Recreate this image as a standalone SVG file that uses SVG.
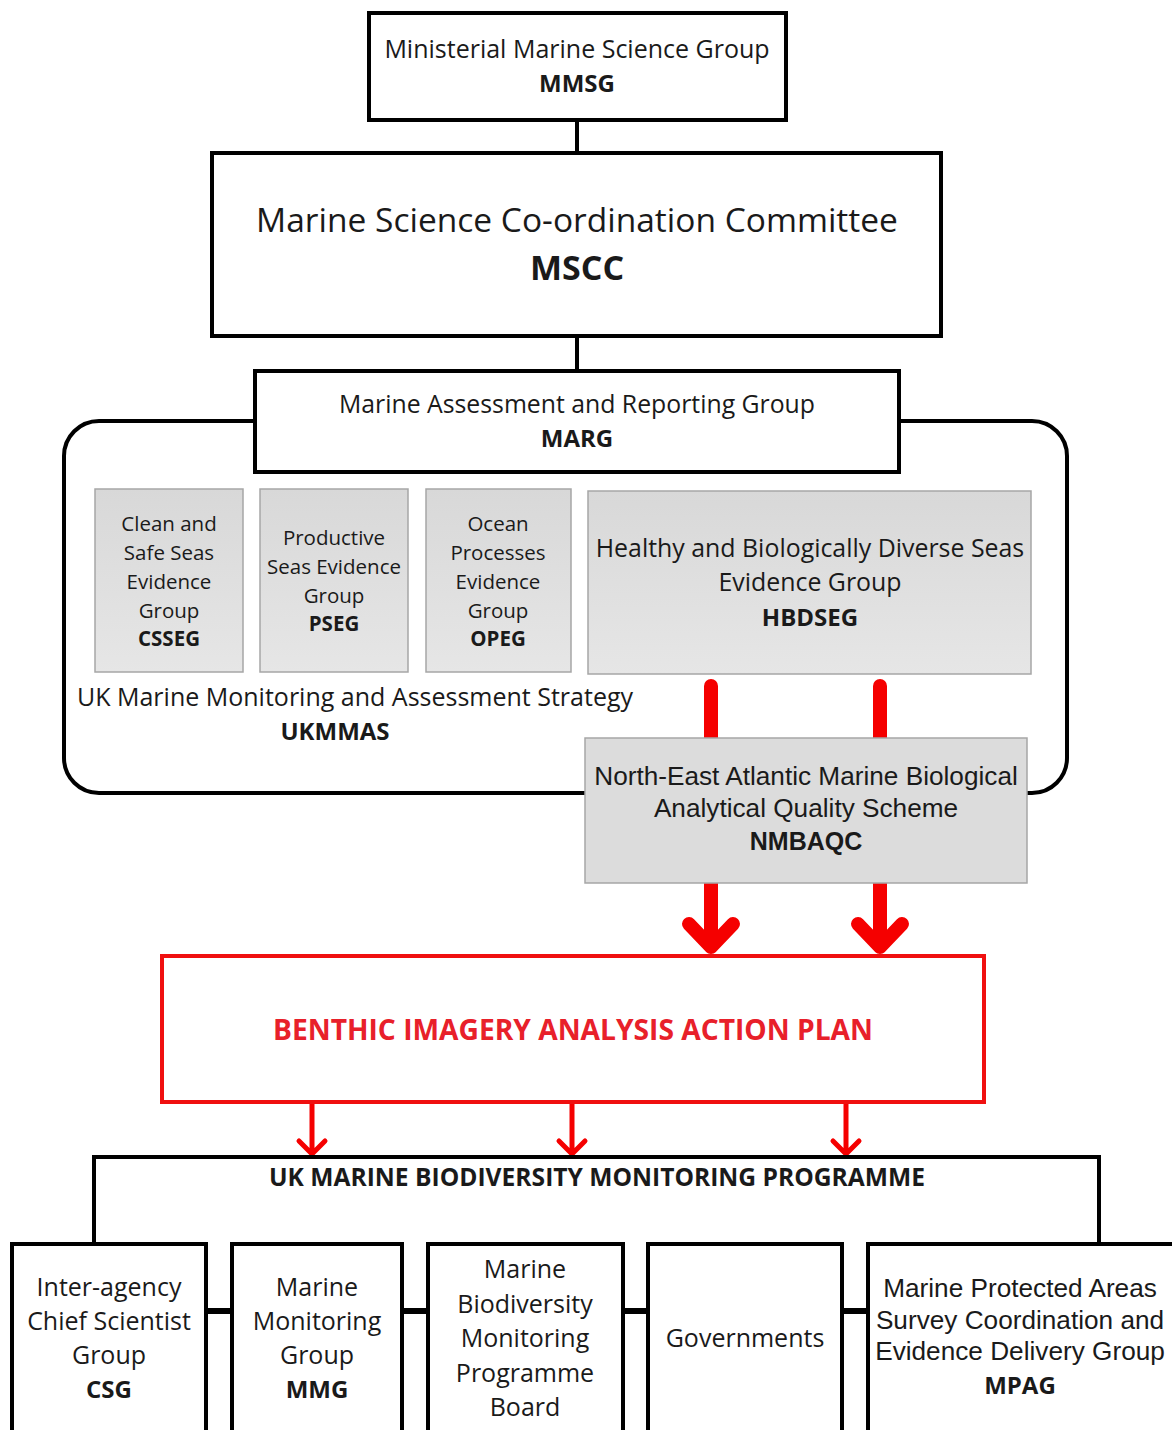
<svg xmlns="http://www.w3.org/2000/svg" width="1172" height="1430" viewBox="0 0 1172 1430">
<defs>
<linearGradient id="gg" x1="0" y1="0" x2="0" y2="1">
<stop offset="0" stop-color="#d8d8d8"/>
<stop offset="1" stop-color="#e6e6e6"/>
</linearGradient>
<style>
.bx{fill:#fff;stroke:#000;stroke-width:4}
.gb{fill:url(#gg);stroke:#a6a6a6;stroke-width:1.5}
.t{font-family:"Open Sans","Liberation Sans",sans-serif;fill:#1a1a1a;text-anchor:middle}
.a{font-family:"Liberation Sans",Arial,sans-serif;fill:#1a1a1a;text-anchor:middle}
.b{font-weight:bold}
.ln{stroke:#000;stroke-width:4;fill:none}
.rt{stroke:#f50000;stroke-width:14;fill:none;stroke-linecap:round;stroke-linejoin:round}
.rs{stroke:#f50000;stroke-width:5;fill:none;stroke-linecap:round;stroke-linejoin:round}
</style>
</defs>
<rect width="1172" height="1430" fill="#fff"/>

<g id="connectors">
<line class="ln" x1="577" y1="120" x2="577" y2="152"/>
<line class="ln" x1="577" y1="336" x2="577" y2="370"/>
<path class="ln" d="M255,421 H99 A35,35 0 0 0 64,456 V758 A35,35 0 0 0 99,793 H1032 A35,35 0 0 0 1067,758 V456 A35,35 0 0 0 1032,421 H899"/>
<line class="rt" x1="711" y1="686" x2="711" y2="740"/>
<line class="rt" x1="880" y1="686" x2="880" y2="740"/>
<path class="rt" d="M711,883 V947 M689,924 L711,947 L733,924"/>
<path class="rt" d="M880,883 V947 M858,924 L880,947 L902,924"/>
<path class="rs" d="M312,1102 V1154 M299,1141 L312,1154 L325,1141"/>
<path class="rs" d="M572,1102 V1154 M559,1141 L572,1154 L585,1141"/>
<path class="rs" d="M846,1102 V1154 M833,1141 L846,1154 L859,1141"/>
<path class="ln" d="M94,1243 V1157 H1099 V1243"/>
<g stroke="#000" stroke-width="6">
<line x1="206" y1="1311" x2="232" y2="1311"/>
<line x1="402" y1="1311" x2="428" y2="1311"/>
<line x1="623" y1="1311" x2="648" y2="1311"/>
<line x1="842" y1="1311" x2="868" y2="1311"/>
</g>
</g>

<g id="mmsg">
<rect class="bx" x="369" y="13" width="417" height="107"/>
<text class="t" x="577" y="58" font-size="25">Ministerial Marine Science Group</text>
<text class="t b" x="577" y="92" font-size="24">MMSG</text>
</g>

<g id="mscc">
<rect class="bx" x="212" y="153" width="729" height="183"/>
<text class="t" x="577" y="232" font-size="33.5">Marine Science Co-ordination Committee</text>
<text class="t b" x="577" y="280" font-size="34">MSCC</text>
</g>

<g id="marg">
<rect class="bx" x="255" y="371" width="644" height="101"/>
<text class="t" x="577" y="413" font-size="24.8">Marine Assessment and Reporting Group</text>
<text class="t b" x="577" y="447" font-size="24">MARG</text>
</g>

<g id="ukmmas">
<text class="t" x="355" y="706" font-size="25">UK Marine Monitoring and Assessment Strategy</text>
<text class="t b" x="335" y="740" font-size="24">UKMMAS</text>
</g>

<g id="csseg">
<rect class="gb" x="95" y="489" width="148" height="183"/>
<g class="t" font-size="20.5">
<text x="169" y="531">Clean and</text>
<text x="169" y="560">Safe Seas</text>
<text x="169" y="589">Evidence</text>
<text x="169" y="618">Group</text>
<text class="b" x="169" y="646">CSSEG</text>
</g>
</g>

<g id="pseg">
<rect class="gb" x="260" y="489" width="148" height="183"/>
<g class="t" font-size="20.5">
<text x="334" y="545">Productive</text>
<text x="334" y="574">Seas Evidence</text>
<text x="334" y="603">Group</text>
<text class="b" x="334" y="631">PSEG</text>
</g>
</g>

<g id="opeg">
<rect class="gb" x="426" y="489" width="145" height="183"/>
<g class="t" font-size="20.5">
<text x="498" y="531">Ocean</text>
<text x="498" y="560">Processes</text>
<text x="498" y="589">Evidence</text>
<text x="498" y="618">Group</text>
<text class="b" x="498" y="646">OPEG</text>
</g>
</g>

<g id="hbdseg">
<rect class="gb" x="588" y="491" width="443" height="183"/>
<g class="t" font-size="24.9">
<text x="810" y="557">Healthy and Biologically Diverse Seas</text>
<text x="810" y="591">Evidence Group</text>
<text class="b" x="810" y="626" font-size="24">HBDSEG</text>
</g>
</g>

<g id="nmbaqc">
<rect x="585" y="738" width="442" height="145" fill="#dcdcdc" stroke="#a6a6a6" stroke-width="1.5"/>
<g class="a" font-size="26.2">
<text x="806" y="785">North-East Atlantic Marine Biological</text>
<text x="806" y="817">Analytical Quality Scheme</text>
<text class="b" x="806" y="850" font-size="25">NMBAQC</text>
</g>
</g>

<g id="biaap">
<rect x="162" y="956" width="822" height="146" fill="#fff" stroke="#f01010" stroke-width="4"/>
<text class="t b" x="573" y="1040" font-size="28.2" style="fill:#e8202a">BENTHIC IMAGERY ANALYSIS ACTION PLAN</text>
</g>

<g id="ukmbmp">
<text class="t b" x="597" y="1186" font-size="24.6">UK MARINE BIODIVERSITY MONITORING PROGRAMME</text>
</g>

<g id="csg">
<rect class="bx" x="12" y="1244" width="194" height="200"/>
<g class="t" font-size="25">
<text x="109" y="1296">Inter-agency</text>
<text x="109" y="1330">Chief Scientist</text>
<text x="109" y="1364">Group</text>
<text class="b" x="109" y="1398" font-size="24">CSG</text>
</g>
</g>

<g id="mmg">
<rect class="bx" x="232" y="1244" width="170" height="200"/>
<g class="t" font-size="25">
<text x="317" y="1296">Marine</text>
<text x="317" y="1330">Monitoring</text>
<text x="317" y="1364">Group</text>
<text class="b" x="317" y="1398" font-size="24">MMG</text>
</g>
</g>

<g id="mbmpb">
<rect class="bx" x="428" y="1244" width="195" height="200"/>
<g class="t" font-size="25">
<text x="525" y="1278">Marine</text>
<text x="525" y="1313">Biodiversity</text>
<text x="525" y="1347">Monitoring</text>
<text x="525" y="1382">Programme</text>
<text x="525" y="1416">Board</text>
</g>
</g>

<g id="governments">
<rect class="bx" x="648" y="1244" width="194" height="200"/>
<text class="t" x="745" y="1347" font-size="25">Governments</text>
</g>

<g id="mpag">
<rect class="bx" x="868" y="1244" width="310" height="200"/>
<g class="a" font-size="26.2">
<text x="1020" y="1297">Marine Protected Areas</text>
<text x="1020" y="1329">Survey Coordination and</text>
<text x="1020" y="1360">Evidence Delivery Group</text>
</g>
<text class="t b" x="1020" y="1394" font-size="24">MPAG</text>
</g>
</svg>
